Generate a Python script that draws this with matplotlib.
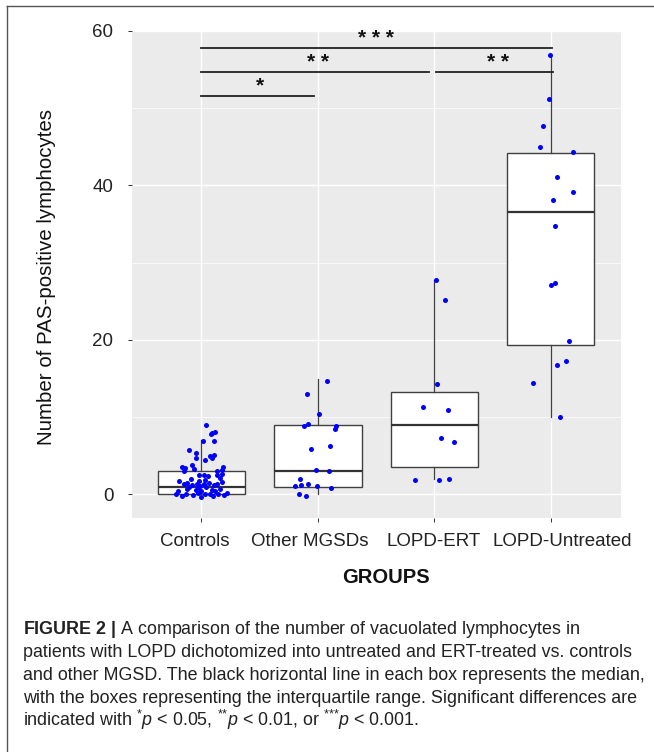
import matplotlib
matplotlib.use('Agg')
import matplotlib.pyplot as plt
import matplotlib.transforms as mtransforms
from matplotlib.lines import Line2D

plt.rcParams['font.family'] = ['Liberation Sans', 'DejaVu Sans']
plt.rcParams['mathtext.fontset'] = 'custom'
plt.rcParams['mathtext.rm'] = 'Liberation Sans'
plt.rcParams['mathtext.it'] = 'Liberation Sans:italic'
plt.rcParams['mathtext.bf'] = 'Liberation Sans:bold'

groups = ['Controls', 'Other MGSDs', 'LOPD-ERT', 'LOPD-Untreated']

# box statistics
whislo = [0, 0, 2, 10]
q1 = [0, 1, 3.5, 19.3]
med = [1, 3, 9, 36.5]
q3 = [3, 9, 13.3, 44.2]
whishi = [7, 14.9, 27.7, 56.8]

# jittered points (value, horizontal jitter in category units)
controls_y = [8.97, 8.1, 7.9, 7.76, 6.95, 6.95, 5.8, 5.36, 4.95, 5.05, 4.7, 4.7, 4.5,
              3.55, 3.4, 3.77, 3.34, 3.55, 3.1, 3.0, 3.0, 2.57, 2.48, 2.36, 2.48, 2.14,
              2.66, 2.05, 1.9, 1.7, 1.6, 1.8,
              1.3, 1.45, 1.25, 1.4, 1.35, 1.5, 1.3, 1.1, 1.2,
              0.5, 0.7, 0.9, 0.6, 0.8, 0.5, 0.9, 0.6, 0.4, 0.7,
              0.1, -0.2, 0.0, -0.1, 0.2, -0.3, 0.0, 0.1, -0.2, 0.0, -0.1, 0.15]
controls_dx = [0.04, 0.117, 0.094, 0.083, 0.014, 0.105, -0.108, -0.046, 0.077, 0.11, 0.09, -0.046, 0.028,
               -0.165, -0.137, -0.08, -0.066, 0.186, 0.177, -0.15, 0.134, -0.023, 0.02, 0.055, 0.134, 0.163,
               0.177, -0.088, 0.03, -0.19, 0.18, -0.02,
               -0.15, -0.12, -0.08, -0.037, 0.02, 0.063, 0.134, -0.01, 0.11,
               -0.2, -0.12, -0.11, -0.05, -0.03, 0.0, 0.04, 0.09, 0.12, 0.16,
               -0.22, -0.17, -0.13, -0.07, -0.03, 0.0, 0.03, 0.07, 0.1, 0.14, 0.19, 0.22]
mgsd_y = [14.7, 13.0, 10.4, 9.1, 8.8, 8.8, 8.45, 5.9, 6.3, 3.2, 3.08, 2.0, 1.15, 1.28, 1.4, 1.15, 0.85, 0.0, -0.14]
mgsd_dx = [0.075, -0.094, 0.006, -0.083, -0.117, 0.154, 0.143, -0.057, 0.10, -0.014, 0.094, -0.157,
           -0.2, -0.142, -0.085, -0.009, 0.11, -0.163, -0.106]
ert_y = [27.7, 25.2, 14.3, 11.3, 10.9, 7.3, 6.8, 1.9, 1.9, 2.0]
ert_dx = [0.012, 0.092, 0.02, -0.094, 0.117, 0.055, 0.168, -0.168, 0.043, 0.126]
untr_y = [56.8, 51.1, 47.7, 45.0, 44.3, 41.1, 39.1, 38.1, 34.7, 27.1, 27.3, 19.9, 16.7, 17.2, 14.4, 10.0]
untr_dx = [-0.005, -0.017, -0.065, -0.094, 0.19, 0.049, 0.19, 0.02, 0.034, 0.003, 0.034, 0.16,
           0.057, 0.134, -0.15, 0.077]

points_y = [controls_y, mgsd_y, ert_y, untr_y]
points_dx = [controls_dx, mgsd_dx, ert_dx, untr_dx]

# significance brackets
sig_x0 = [1.0, 1.0, 3.01, 1.0]
sig_x1 = [4.01, 2.95, 4.02, 1.97]
sig_y = [57.8, 54.7, 54.7, 51.6]
sig_text = ['* * *', '* *', '* *', '*']
sig_text_x = [2.5, 2.0, 3.55, 1.5]
sig_text_y = [59.0, 55.9, 55.9, 52.9]

caption = [
    r"$\mathbf{FIGURE\ 2\ |}$ A comparison of the number of vacuolated lymphocytes in",
    "patients with LOPD dichotomized into untreated and ERT-treated vs. controls",
    "and other MGSD. The black horizontal line in each box represents the median,",
    "with the boxes representing the interquartile range. Significant differences are",
    r"indicated with ${}^{{*}}p$ < 0.05, ${}^{{*}{*}}p$ < 0.01, or ${}^{{*}{*}{*}}p$ < 0.001.",
]

W, H = 654, 752
fig = plt.figure(figsize=(6.54, 7.52), dpi=100)
ax = fig.add_axes([131.5 / W, 1 - 518 / H, (620.7 - 131.5) / W, (518 - 30.7) / H])
ax.set_facecolor('#EBEBEB')
for s in ax.spines.values():
    s.set_visible(False)

stats = []
for i in range(len(groups)):
    stats.append({'whislo': whislo[i], 'q1': q1[i], 'med': med[i], 'q3': q3[i],
                  'whishi': whishi[i], 'fliers': []})
ax.bxp(stats, positions=range(1, 5), widths=0.75, patch_artist=True, showcaps=False,
       boxprops=dict(facecolor='white', edgecolor='#404040', linewidth=1.0),
       medianprops=dict(color='#333333', linewidth=1.6),
       whiskerprops=dict(color='#404040', linewidth=0.9), manage_ticks=False, zorder=2)

for i in range(len(groups)):
    xs = [i + 1 + d for d in points_dx[i]]
    ax.scatter(xs, points_y[i], s=13, color='#0000FF', linewidths=0, zorder=3)

for x0, x1, y in zip(sig_x0, sig_x1, sig_y):
    ax.plot([x0, x1], [y, y], color='#222222', lw=1.3, zorder=4)
for x, y, t in zip(sig_text_x, sig_text_y, sig_text):
    ax.text(x, y, t, ha='center', va='center', fontsize=15, fontweight='bold', color='#111111')

ax.set_xlim(0.4, 4.6)
ax.set_ylim(-3.05, 59.7)
ax.set_yticks([0, 20, 40, 60])
ax.set_yticks([10, 30, 50], minor=True)
ax.set_xticks(range(1, 5))
ax.set_xticklabels(groups)
ax.grid(which='major', color='white', lw=1.0)
ax.grid(which='minor', axis='y', color='white', lw=0.5)
ax.set_axisbelow(True)
ax.tick_params(axis='both', which='major', length=2.75, width=0.7, color='#333333',
               labelsize=13.5, labelcolor='#222222')
ax.tick_params(axis='x', pad=8)
ax.tick_params(axis='y', pad=10.3)
ax.tick_params(which='minor', length=0)

# the category labels sit slightly off their ticks in the original
label_shift = [-7, -8, -1, 11]
for lab, dx in zip(ax.get_xticklabels(), label_shift):
    lab.set_transform(lab.get_transform() + mtransforms.ScaledTranslation(dx / 100, 0, fig.dpi_scale_trans))

fig.text(47 / W, 1 - 277 / H, 'Number of PAS-positive lymphocytes', rotation=90,
         ha='center', va='center', fontsize=14.8, color='#111111')
fig.text(385.5 / W, 1 - 583.3 / H, 'GROUPS', ha='center', va='baseline',
         fontsize=14.5, fontweight='bold', color='#111111')

baselines = [634, 656.9, 679.8, 702.7, 725.6]
for line, b in zip(caption, baselines):
    fig.text(22.7 / W, 1 - b / H, line, ha='left', va='baseline', fontsize=12.9, color='#222222')

# frame around figure and caption
fig.add_artist(Line2D([7.3 / W, 7.3 / W], [0, 1 - 6 / H], transform=fig.transFigure, color='#555555', lw=1.0))
fig.add_artist(Line2D([7.3 / W, 1], [1 - 6 / H, 1 - 6 / H], transform=fig.transFigure, color='#555555', lw=1.0))

fig.savefig('out.png', dpi=100)
